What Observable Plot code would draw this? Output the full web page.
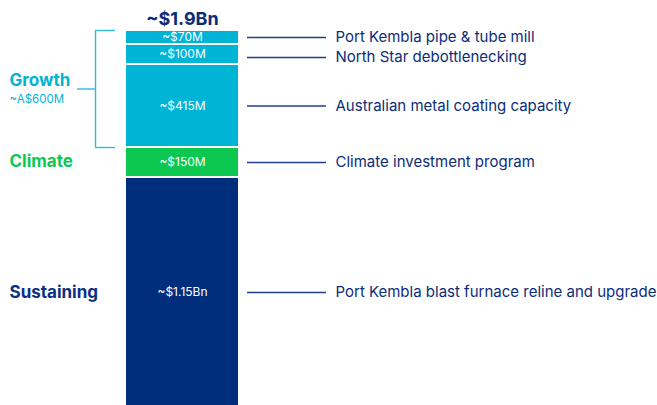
<!DOCTYPE html>
<html><head><meta charset="utf-8">
<script src="https://cdn.jsdelivr.net/npm/d3@7"></script>
<script src="https://cdn.jsdelivr.net/npm/@observablehq/plot@0.6"></script>
<style>html,body{margin:0;padding:0;background:#fff;overflow:hidden} svg{display:block}</style>
</head><body><div id="chart"></div>
<script>
// Data (bottom to top of the stack)
const groups = ["Sustaining", "Climate", "Growth", "Growth", "Growth"];
const projects = [
  "Port Kembla blast furnace reline and upgrade",
  "Climate investment program",
  "Australian metal coating capacity",
  "North Star debottlenecking",
  "Port Kembla pipe & tube mill"
];
const values = [1150, 150, 415, 100, 70];
const valueLabels = ["~$1.15Bn", "~$150M", "~$415M", "~$100M", "~$70M"];
const totalLabel = "~$1.9Bn";
const groupNames = ["Growth", "Climate", "Sustaining"];
const growthSub = "~A$600M";

const colors = {Sustaining: "#002E7C", Climate: "#0CC850", Growth: "#00B4D6"};
const navy = "#0B2D78";

let acc = 0;
const rows = values.map((v, i) => {
  const r = {group: groups[i], project: projects[i], value: v, label: valueLabels[i], y1: acc, y2: acc + v, mid: acc + v / 2};
  acc += v;
  return r;
});
const total = acc;
const growthRows = rows.filter(r => r.group === "Growth");
const gLo = d3.min(growthRows, r => r.y1), gHi = d3.max(growthRows, r => r.y2), gMid = (gLo + gHi) / 2;
const byGroup = g => rows.find(r => r.group === g);

// the annotation for the second-from-top segment is nudged down slightly in the original
const nudged = rows.filter(r => r.project === projects[3]);
const regular = rows.filter(r => r.project !== projects[3]);

const W = 657, H = 405;
const barL = 126, barR = 238, barC = (barL + barR) / 2;
const lineL = 247, lineR = 326, textX = 335;
const brX = 95, brR = 115, brL = 77;

const annotate = (data, dy) => [
  Plot.ruleY(data, {y: "mid", dy, x1: lineL, x2: lineR, stroke: "#1F3F8A", strokeWidth: 1.3}),
  Plot.text(data, {x: textX, y: "mid", dy, text: "project", textAnchor: "start", fill: navy, fontSize: 15})
];

const chart = Plot.plot({
  width: W, height: H, margin: 0,
  x: {domain: [0, W], range: [0, W], axis: null},
  y: {domain: [0, total], range: [407, 30], axis: null},
  style: {fontFamily: "Inter, 'Noto Sans', sans-serif", background: "#fff"},
  marks: [
    Plot.rectY(rows, {x1: barL, x2: barR, y1: "y1", y2: "y2", fill: d => colors[d.group], insetTop: 1, insetBottom: 1}),
    Plot.text(rows, {x: barC, y: "mid", text: "label", fill: "#fff", fontSize: 12}),
    Plot.text([totalLabel], {x: barC, y: () => total, dy: -11, text: d => d, fill: navy, fontSize: 18, fontWeight: 700}),
    ...annotate(regular, 0),
    ...annotate(nudged, 3),
    // bracket for Growth
    Plot.ruleX([brX], {x: d => d, y1: gLo, y2: gHi, stroke: "#2FBBDC", strokeWidth: 1.4}),
    Plot.ruleY([gLo, gHi], {y: d => d, x1: brX, x2: brR, stroke: "#2FBBDC", strokeWidth: 1.4}),
    Plot.ruleY([gMid], {y: d => d, x1: brL, x2: brX, stroke: "#2FBBDC", strokeWidth: 1.4}),
    // group labels
    Plot.text([groupNames[0]], {x: 9, y: () => gMid, dy: -8, text: d => d, textAnchor: "start", fill: colors.Growth, fontSize: 17, fontWeight: 700}),
    Plot.text([growthSub], {x: 9, y: () => gMid, dy: 10, text: d => d, textAnchor: "start", fill: colors.Growth, fontSize: 11.5}),
    Plot.text([groupNames[1]], {x: 9, y: () => byGroup("Climate").mid, dy: -1, text: d => d, textAnchor: "start", fill: colors.Climate, fontSize: 17, fontWeight: 700}),
    Plot.text([groupNames[2]], {x: 9, y: () => byGroup("Sustaining").mid, dy: 0, text: d => d, textAnchor: "start", fill: "#0A3080", fontSize: 17, fontWeight: 700})
  ]
});
document.getElementById("chart").appendChild(chart);
</script>
</body></html>
